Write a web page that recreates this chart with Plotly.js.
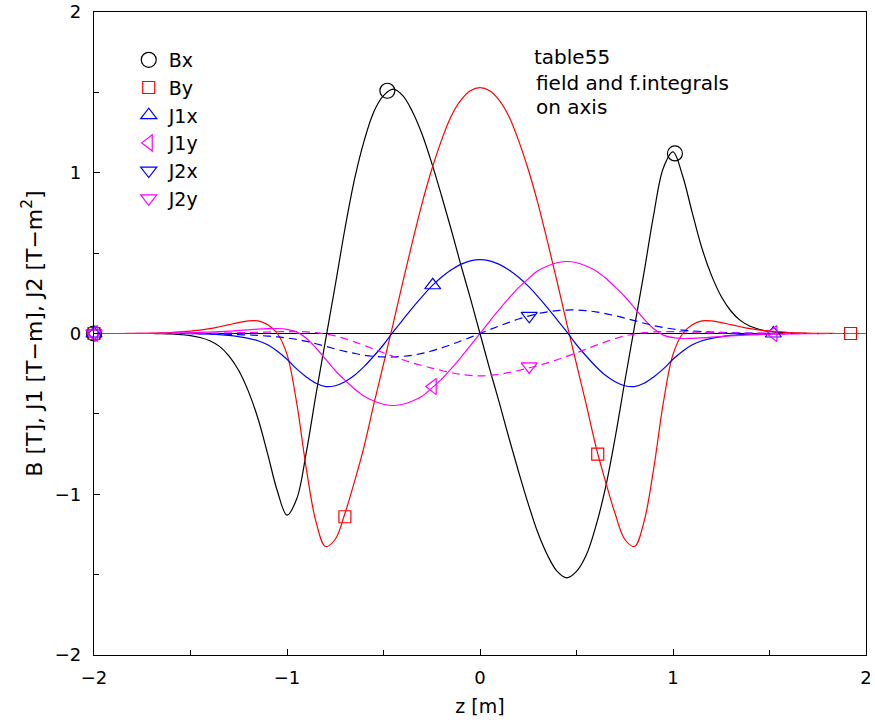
<!DOCTYPE html>
<html>
<head>
<meta charset="utf-8">
<script src="https://cdn.plot.ly/plotly-3.0.1.min.js"></script>
<style>
  html, body { margin: 0; padding: 0; background: #fff; }
  #chart { width: 875px; height: 725px; }
</style>
</head>
<body>
<div id="chart"></div>
<script>
// longitudinal position along the axis [m]
const z = [
  -2.00, -1.95, -1.90, -1.85, -1.80, -1.75, -1.70, -1.65, -1.60, -1.55,
  -1.50, -1.45, -1.40, -1.35, -1.30, -1.25, -1.20, -1.15, -1.10, -1.05,
  -1.00, -0.95, -0.90, -0.85, -0.80, -0.75, -0.70, -0.65, -0.60, -0.55,
  -0.50, -0.45, -0.40, -0.35, -0.30, -0.25, -0.20, -0.15, -0.10, -0.05,
   0.00,
   0.05,  0.10,  0.15,  0.20,  0.25,  0.30,  0.35,  0.40,  0.45,  0.50,
   0.55,  0.60,  0.65,  0.70,  0.75,  0.80,  0.85,  0.90,  0.95,  1.00,
   1.05,  1.10,  1.15,  1.20,  1.25,  1.30,  1.35,  1.40,  1.45,  1.50,
   1.55,  1.60,  1.65,  1.70,  1.75,  1.80,  1.85,  1.90,  1.95,  2.00
];

// field components [T]
const Bx = [
  0, 0, 0, 0, 0, 0, 0, -0.001, -0.003, -0.007,
  -0.013, -0.025, -0.045, -0.08, -0.14, -0.23, -0.36, -0.53, -0.75, -0.98,
  -1.13, -1.03, -0.74, -0.38, -0.04, 0.3, 0.65, 0.96, 1.2, 1.38,
  1.48, 1.52, 1.48, 1.38, 1.24, 1.06, 0.86, 0.65, 0.43, 0.22,
  0,
  -0.22, -0.43, -0.65, -0.86, -1.06, -1.24, -1.38, -1.48, -1.52, -1.48,
  -1.38, -1.2, -0.96, -0.65, -0.3, 0.04, 0.38, 0.74, 1.03, 1.13,
  0.98, 0.75, 0.53, 0.36, 0.23, 0.14, 0.08, 0.045, 0.025, 0.013,
  0.007, 0.003, 0.001, 0, 0, 0, 0, 0, 0, 0
];
const By = [
  0, 0, 0, 0, 0.001, 0.001, 0.002, 0.004, 0.006, 0.01,
  0.015, 0.021, 0.03, 0.042, 0.055, 0.068, 0.078, 0.078, 0.055, 0.0,
  -0.13, -0.43, -0.84, -1.17, -1.325, -1.28, -1.12, -0.92, -0.7, -0.44,
  -0.19, 0.06, 0.32, 0.57, 0.81, 1.02, 1.2, 1.35, 1.45, 1.51,
  1.53,
  1.51, 1.45, 1.35, 1.2, 1.02, 0.81, 0.57, 0.32, 0.06, -0.19,
  -0.44, -0.7, -0.92, -1.12, -1.28, -1.325, -1.17, -0.84, -0.43, -0.13,
  0.0, 0.055, 0.078, 0.078, 0.068, 0.055, 0.042, 0.03, 0.021, 0.015,
  0.01, 0.006, 0.004, 0.002, 0.001, 0.001, 0, 0, 0, 0
];

// first field integrals [T-m]
const J1x = [
  0, 0, 0, 0, 0, 0, 0, 0, 0, -0.001,
  -0.001, -0.002, -0.004, -0.007, -0.012, -0.02, -0.03, -0.045, -0.07, -0.11,
  -0.16, -0.22, -0.27, -0.31, -0.33, -0.325, -0.3, -0.26, -0.205, -0.14,
  -0.07, 0.01, 0.085, 0.16, 0.23, 0.295, 0.35, 0.395, 0.43, 0.452,
  0.46,
  0.452, 0.43, 0.395, 0.35, 0.295, 0.23, 0.16, 0.085, 0.01, -0.07,
  -0.14, -0.205, -0.26, -0.3, -0.325, -0.33, -0.31, -0.27, -0.22, -0.16,
  -0.11, -0.07, -0.045, -0.03, -0.02, -0.012, -0.007, -0.004, -0.002, -0.001,
  -0.001, 0, 0, 0, 0, 0, 0, 0, 0, 0
];
const J1y = [
  0, 0, 0, 0, 0, 0.001, 0.001, 0.002, 0.003, 0.004,
  0.005, 0.007, 0.009, 0.012, 0.015, 0.019, 0.023, 0.027, 0.03, 0.031,
  0.026, 0.01, -0.03, -0.09, -0.16, -0.23, -0.29, -0.345, -0.39, -0.42,
  -0.44, -0.448, -0.44, -0.42, -0.39, -0.34, -0.285, -0.22, -0.15, -0.076,
  0,
  0.076, 0.15, 0.22, 0.285, 0.34, 0.39, 0.42, 0.44, 0.448, 0.44,
  0.42, 0.39, 0.345, 0.29, 0.23, 0.16, 0.09, 0.03, -0.01, -0.026,
  -0.031, -0.03, -0.027, -0.023, -0.019, -0.015, -0.012, -0.009, -0.007, -0.005,
  -0.004, -0.003, -0.002, -0.001, -0.001, 0, 0, 0, 0, 0
];

// second field integrals [T-m^2]
const J2x = [
  0, 0, 0, 0, 0, 0, 0, 0, 0, 0,
  0, -0.001, -0.002, -0.003, -0.005, -0.007, -0.009, -0.012, -0.016, -0.021,
  -0.028, -0.037, -0.049, -0.064, -0.08, -0.096, -0.111, -0.124, -0.135, -0.142,
  -0.146, -0.146, -0.142, -0.135, -0.124, -0.108, -0.09, -0.069, -0.047, -0.024,
  0,
  0.024, 0.047, 0.069, 0.09, 0.108, 0.124, 0.135, 0.142, 0.146, 0.146,
  0.142, 0.135, 0.124, 0.111, 0.096, 0.08, 0.064, 0.049, 0.037, 0.028,
  0.021, 0.016, 0.012, 0.009, 0.007, 0.005, 0.003, 0.002, 0.001, 0,
  0, 0, 0, 0, 0, 0, 0, 0, 0, 0
];
const J2y = [
  0, 0, 0, 0, 0, 0, 0, 0, 0.001, 0.001,
  0.001, 0.002, 0.002, 0.003, 0.004, 0.005, 0.006, 0.008, 0.009, 0.011,
  0.012, 0.012, 0.01, 0.005, -0.003, -0.015, -0.032, -0.052, -0.074, -0.097,
  -0.12, -0.142, -0.163, -0.183, -0.2, -0.215, -0.23, -0.243, -0.254, -0.261,
  -0.264,
  -0.261, -0.254, -0.243, -0.23, -0.215, -0.2, -0.183, -0.163, -0.142, -0.12,
  -0.097, -0.074, -0.052, -0.032, -0.015, -0.003, 0.005, 0.01, 0.012, 0.012,
  0.011, 0.009, 0.008, 0.006, 0.005, 0.004, 0.003, 0.002, 0.002, 0.001,
  0.001, 0.001, 0, 0, 0, 0, 0, 0, 0, 0
];

// sampled points shown with symbols along each curve
const BxPtsZ  = [-2, -0.48, 1.01];
const BxPtsV  = [0, 1.51, 1.12];
const ByPtsZ  = [-2, -0.70, 0.61, 1.92];
const ByPtsV  = [0, -1.14, -0.75, 0];
const J1xPtsZ = [-2, -0.245, 1.52];
const J1xPtsV = [0, 0.30, 0];
const J1yPtsZ = [-2, -0.245, 1.52];
const J1yPtsV = [0, -0.33, 0];
const J2xPtsZ = [-2, 0.255];
const J2xPtsV = [0, 0.11];
const J2yPtsZ = [-2, 0.255];
const J2yPtsV = [0, -0.205];

const FONT = 'DejaVu Sans, Liberation Sans, Arial, sans-serif';

const series = [
  {name: 'Bx',  y: Bx,  pz: BxPtsZ,  pv: BxPtsV,  color: '#000000', symbol: 'circle-open',        size: 15, dash: 'solid'},
  {name: 'By',  y: By,  pz: ByPtsZ,  pv: ByPtsV,  color: '#ff0000', symbol: 'square-open',        size: 12, dash: 'solid'},
  {name: 'J1x', y: J1x, pz: J1xPtsZ, pv: J1xPtsV, color: '#0000ff', symbol: 'triangle-up-open',   size: 14, dash: 'solid'},
  {name: 'J1y', y: J1y, pz: J1yPtsZ, pv: J1yPtsV, color: '#ff00ff', symbol: 'triangle-left-open', size: 14, dash: 'solid'},
  {name: 'J2x', y: J2x, pz: J2xPtsZ, pv: J2xPtsV, color: '#0000ff', symbol: 'triangle-down-open', size: 14, dash: '8px,5px'},
  {name: 'J2y', y: J2y, pz: J2yPtsZ, pv: J2yPtsV, color: '#ff00ff', symbol: 'triangle-down-open', size: 14, dash: '8px,5px'}
];

const traces = [];
series.forEach(s => {
  traces.push({
    x: z, y: s.y, type: 'scatter', mode: 'lines',
    line: {color: s.color, width: 1.2, dash: s.dash, shape: 'spline', smoothing: 1},
    showlegend: false, hoverinfo: 'skip'
  });
});
series.forEach(s => {
  traces.push({
    x: s.pz, y: s.pv, type: 'scatter', mode: 'markers', name: s.name,
    marker: {symbol: s.symbol, size: s.size, color: s.color, line: {color: s.color, width: 1.2}},
    cliponaxis: false
  });
});

const layout = {
  width: 875, height: 725,
  margin: {l: 94, r: 9, t: 12, b: 70},
  paper_bgcolor: '#ffffff', plot_bgcolor: '#ffffff',
  font: {family: FONT, size: 18, color: '#000'},
  showlegend: true,
  legend: {
    x: 0.045, y: 0.955, xanchor: 'left', yanchor: 'top',
    bgcolor: 'rgba(0,0,0,0)', borderwidth: 0,
    font: {family: FONT, size: 19, color: '#000'},
    itemwidth: 30, tracegroupgap: 0
  },
  xaxis: {
    range: [-2, 2], dtick: 1, tick0: 0,
    showgrid: false, zeroline: false,
    showline: true, linecolor: '#000', linewidth: 1.2, mirror: true,
    ticks: 'inside', ticklen: 6, tickcolor: '#000', tickwidth: 1,
    minor: {dtick: 0.5, ticks: 'inside', ticklen: 5, tickcolor: '#000', showgrid: false},
    tickfont: {family: FONT, size: 18},
    ticklabelstandoff: 6,
    title: {text: 'z [m]', font: {family: FONT, size: 19}, standoff: 13}
  },
  yaxis: {
    range: [-2, 2], dtick: 1, tick0: 0,
    showgrid: false, zeroline: true, zerolinecolor: '#000', zerolinewidth: 1.2,
    showline: true, linecolor: '#000', linewidth: 1.2, mirror: true,
    ticks: 'inside', ticklen: 6, tickcolor: '#000', tickwidth: 1,
    minor: {dtick: 0.5, ticks: 'inside', ticklen: 5, tickcolor: '#000', showgrid: false},
    tickfont: {family: FONT, size: 18},
    ticklabelstandoff: 8,
    title: {text: 'B [T], J1 [T\u2212m], J2 [T\u2212m<sup>2</sup>]', font: {family: FONT, size: 22}, standoff: 6}
  },
  annotations: [
    {text: 'table55', xref: 'paper', yref: 'paper', x: 0.568, y: 0.930, xanchor: 'left', yanchor: 'middle', showarrow: false, font: {family: FONT, size: 20}},
    {text: 'field and f.integrals', xref: 'paper', yref: 'paper', x: 0.570, y: 0.890, xanchor: 'left', yanchor: 'middle', showarrow: false, font: {family: FONT, size: 20}},
    {text: 'on axis', xref: 'paper', yref: 'paper', x: 0.570, y: 0.852, xanchor: 'left', yanchor: 'middle', showarrow: false, font: {family: FONT, size: 20}}
  ]
};

Plotly.newPlot('chart', traces, layout, {staticPlot: true, displayModeBar: false});
</script>
</body>
</html>
